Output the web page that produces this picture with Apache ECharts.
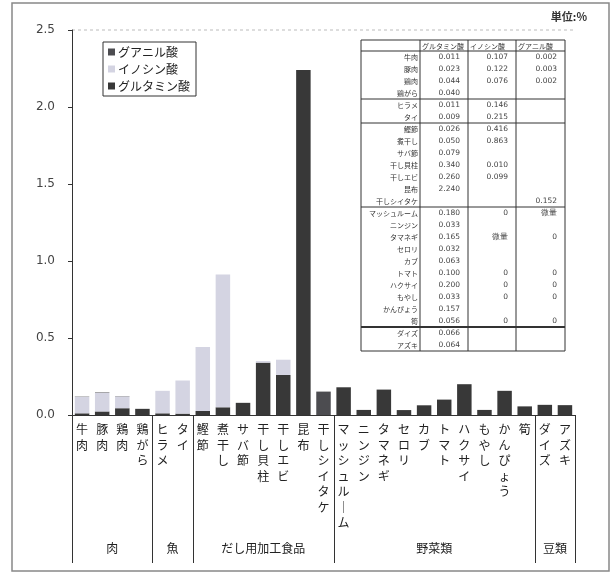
<!DOCTYPE html>
<html>
<head>
<meta charset="utf-8">
<script src="https://cdn.jsdelivr.net/npm/echarts@6/dist/echarts.min.js"></script>
<style>html,body{margin:0;padding:0;background:#fff}#main{width:614px;height:573px}</style>
</head>
<body>
<div id="main"></div>
<script>
var categories = ['牛肉', '豚肉', '鶏肉', '鶏がら', 'ヒラメ', 'タイ', '鰹節', '煮干し', 'サバ節', '干し貝柱', '干しエビ', '昆布', '干しシイタケ',
    'マッシュルーム', 'ニンジン', 'タマネギ', 'セロリ', 'カブ', 'トマト', 'ハクサイ', 'もやし', 'かんぴょう', '筍', 'ダイズ', 'アズキ'];
var groupNames = ['肉', '魚', 'だし用加工食品', '野菜類', '豆類'];
var groupSizes = [4, 2, 7, 10, 2];
var seriesNames = ['グルタミン酸', 'イノシン酸', 'グアニル酸'];
// null = 空欄, '微量' = 微量
var glutamic = [0.011, 0.023, 0.044, 0.040, 0.011, 0.009, 0.026, 0.050, 0.079, 0.340, 0.260, 2.240, null,
    0.180, 0.033, 0.165, 0.032, 0.063, 0.100, 0.200, 0.033, 0.157, 0.056, 0.066, 0.064];
var inosinic = [0.107, 0.122, 0.076, null, 0.146, 0.215, 0.416, 0.863, null, 0.010, 0.099, null, null,
    0, null, '微量', null, null, 0, 0, 0, null, 0, null, null];
var guanylic = [0.002, 0.003, 0.002, null, null, null, null, null, null, null, null, null, 0.152,
    '微量', null, 0, null, null, 0, 0, 0, null, 0, null, null];

var FONT = '"Noto Sans CJK JP", sans-serif';
var colors = ['#383838', '#d4d4e2', '#4c4c50'];

function toBar(arr) {
    return arr.map(function(v) { return typeof v === 'number' ? v : 0; });
}
function cellText(v) {
    if (v === null) return '';
    if (typeof v === 'string') return v;
    return v === 0 ? '0' : v.toFixed(3);
}

// グループの境界（カテゴリ番号）
var bounds = [];
(function() {
    var acc = 0;
    groupSizes.forEach(function(s) { bounds.push(acc); acc += s; });
    bounds.push(acc);
})();

var chart = echarts.init(document.getElementById('main'));

var option = {
    animation: false,
    textStyle: { fontFamily: FONT },
    title: {
        text: '単位:%',
        right: 22,
        top: 6,
        textStyle: { fontSize: 11, fontWeight: 'bold', color: '#333', fontFamily: FONT }
    },
    legend: {
        orient: 'vertical',
        left: 103,
        top: 42,
        padding: [4, 6, 4, 5],
        itemGap: 5,
        itemWidth: 7,
        itemHeight: 7,
        icon: 'rect',
        borderColor: '#333',
        borderWidth: 1,
        data: ['グアニル酸', 'イノシン酸', 'グルタミン酸'],
        textStyle: { fontSize: 12, color: '#222', fontFamily: FONT, padding: [0, 0, 0, -2] }
    },
    grid: { left: 72, top: 30, right: 39, bottom: 158 },
    xAxis: {
        type: 'category',
        data: categories,
        axisLine: { lineStyle: { color: '#333', width: 1 } },
        axisTick: { show: false },
        axisLabel: {
            interval: 0,
            margin: 7,
            fontSize: 12,
            lineHeight: 15.5,
            color: '#222',
            fontFamily: FONT,
            formatter: function(v) { return v.replace(/ー/g, '｜').split('').join('\n'); }
        }
    },
    yAxis: {
        type: 'value',
        min: 0,
        max: 2.5,
        interval: 0.5,
        axisLine: { show: true, lineStyle: { color: '#333' } },
        axisTick: { show: true, length: 4, lineStyle: { color: '#333' } },
        splitLine: { show: false },
        axisLabel: {
            margin: 17,
            fontSize: 12,
            color: '#444',
            fontFamily: 'DejaVu Sans',
            formatter: function(v) { return v.toFixed(1); }
        }
    },
    series: [glutamic, inosinic, guanylic].map(function(arr, k) {
        return {
            name: seriesNames[k],
            type: 'bar',
            stack: 'total',
            barWidth: '72%',
            data: toBar(arr),
            itemStyle: { color: colors[k] }
        };
    })
};
chart.setOption(option);

// 表・グループ名・枠
var g = [];
g.push({ type: 'rect', shape: { x: 12, y: 3, width: 597, height: 568 }, style: { fill: null, stroke: '#888', lineWidth: 1.5 }, silent: true });

var topY = chart.convertToPixel({ yAxisIndex: 0 }, 2.5);
var baseY = chart.convertToPixel({ yAxisIndex: 0 }, 0);
var x0 = chart.convertToPixel({ xAxisIndex: 0 }, 0);
var x1 = chart.convertToPixel({ xAxisIndex: 0 }, categories.length - 1);
var half = (x1 - x0) / (categories.length - 1) / 2;
g.push({ type: 'line', shape: { x1: x0 - half, y1: topY, x2: x1 + half, y2: topY }, style: { stroke: '#bbb', lineDash: [3, 3], lineWidth: 1 }, silent: true });

// グループの区切り線
bounds.forEach(function(b) {
    var x = chart.convertToPixel({ xAxisIndex: 0 }, Math.min(b, categories.length - 1)) + (b < categories.length ? -half : half);
    x = Math.round(x) + 0.5;
    g.push({ type: 'line', shape: { x1: x, y1: baseY, x2: x, y2: baseY + 148 }, style: { stroke: '#333', lineWidth: 1 }, silent: true });
});

var start = 0;
groupSizes.forEach(function(s, i) {
    var a = chart.convertToPixel({ xAxisIndex: 0 }, start);
    var b = chart.convertToPixel({ xAxisIndex: 0 }, start + s - 1);
    g.push({
        type: 'text',
        style: { x: (a + b) / 2, y: 548, text: groupNames[i], align: 'center', verticalAlign: 'middle', fontSize: 12, fill: '#222', fontFamily: FONT },
        silent: true
    });
    start += s;
});

// 数値表
var tx = [361, 420, 468, 516, 565], ty0 = 40, hh = 11, rh = 12;
var tBottom = ty0 + hh + rh * categories.length;
g.push({ type: 'rect', shape: { x: tx[0], y: ty0, width: tx[4] - tx[0], height: tBottom - ty0 }, style: { fill: '#fff', stroke: '#333', lineWidth: 1 }, silent: true });
g.push({ type: 'line', shape: { x1: tx[0], y1: ty0 + hh, x2: tx[4], y2: ty0 + hh }, style: { stroke: '#333', lineWidth: 1.2 }, silent: true });
[1, 2, 3].forEach(function(c) {
    g.push({ type: 'line', shape: { x1: tx[c], y1: ty0, x2: tx[c], y2: tBottom }, style: { stroke: '#333', lineWidth: 1 }, silent: true });
});
bounds.slice(1, -1).forEach(function(r, i) {
    var y = ty0 + hh + rh * r;
    g.push({ type: 'line', shape: { x1: tx[0], y1: y, x2: tx[4], y2: y }, style: { stroke: '#333', lineWidth: i === bounds.length - 3 ? 1.8 : 1 }, silent: true });
});
seriesNames.forEach(function(n, c) {
    g.push({ type: 'text', style: { x: tx[c + 1] + 2, y: ty0 + hh / 2 + 0.5, text: n, align: 'left', verticalAlign: 'middle', fontSize: 7, fill: '#333', fontFamily: FONT }, silent: true });
});
var cols = [glutamic, inosinic, guanylic];
categories.forEach(function(name, r) {
    var cy = ty0 + hh + rh * r + rh / 2;
    g.push({ type: 'text', style: { x: tx[1] - 2, y: cy, text: name, align: 'right', verticalAlign: 'middle', fontSize: 7, fill: '#333', fontFamily: FONT }, silent: true });
    cols.forEach(function(arr, c) {
        var t = cellText(arr[r]);
        if (!t) return;
        g.push({ type: 'text', style: { x: tx[c + 2] - 8, y: cy, text: t, align: 'right', verticalAlign: 'middle', fontSize: 7.5, fill: '#444', fontFamily: 'DejaVu Sans' }, silent: true });
    });
});

chart.setOption({ graphic: g });
</script>
</body>
</html>
